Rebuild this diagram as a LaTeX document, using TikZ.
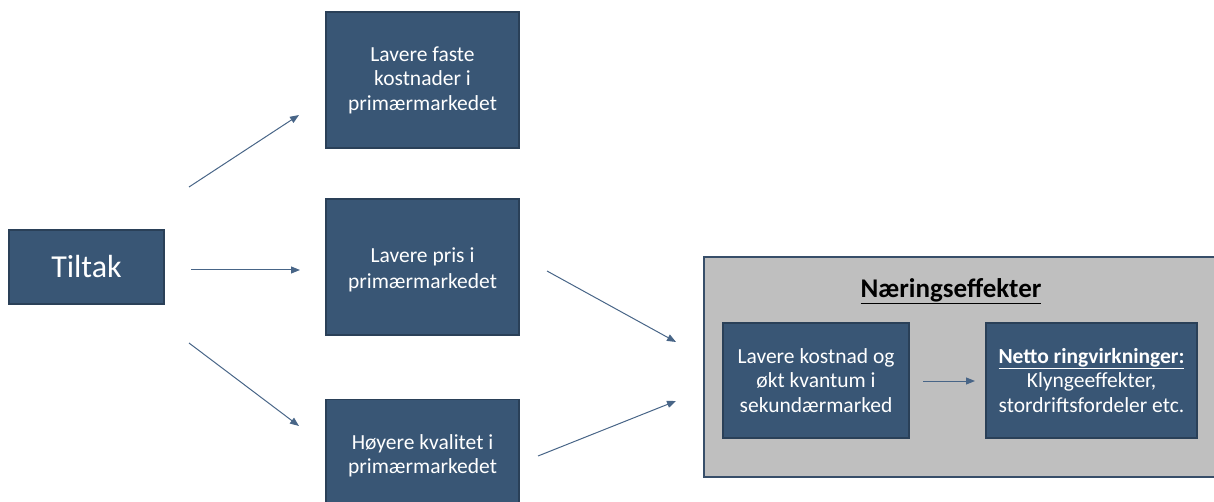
\documentclass[tikz,border=0pt]{standalone}
\usepackage{fontspec}
\setmainfont{Carlito}
\usetikzlibrary{arrows.meta}
\definecolor{boxblue}{RGB}{57,86,117}
\definecolor{boxedge}{RGB}{42,64,88}
\definecolor{greyfill}{RGB}{191,191,191}
\definecolor{greyedge}{RGB}{55,78,105}
\definecolor{arrowc}{RGB}{72,101,135}
\tikzset{
  bluebox/.style={draw=boxedge, line width=1.3pt, fill=boxblue, text=white, align=center,
    inner sep=0pt, font=\fontsize{21.5}{24.5}\selectfont},
  conn/.style={draw=arrowc, line width=1pt, -{Triangle[length=9pt,width=7pt]}},
}
\begin{document}
\begin{tikzpicture}[x=1pt,y=-1pt]
\useasboundingbox (0,0) rectangle (1214,502);
\clip (0,0) rectangle (1214,502);
% grey frame
\node[draw=greyedge, line width=1.3pt, fill=greyfill, minimum width=526pt, minimum height=220pt, inner sep=0pt] (frame) at (967,367) {};
\node[font=\fontsize{27}{29}\selectfont\bfseries] (title) at (951,291) {\underline{Næringseffekter}};
% left boxes
\node[bluebox, minimum width=155pt, minimum height=74pt, font=\fontsize{32}{34}\selectfont] (tiltak) at (86.5,267) {Tiltak};
\node[bluebox, minimum width=193pt, minimum height=136pt] (b1) at (422.5,80) {Lavere faste\\kostnader i\\primærmarkedet};
\node[bluebox, minimum width=193pt, minimum height=136pt] (b2) at (422.5,267) {};
\node[text=white, align=center, font=\fontsize{21.5}{26}\selectfont] (b2t) at (422.5,270) {Lavere pris i\\primærmarkedet};
\node[bluebox, minimum width=193pt, minimum height=122pt, anchor=north] (b3) at (422.5,399) {};
\node[text=white, align=center, font=\fontsize{21.5}{24.5}\selectfont] (b3t) at (422.5,456) {Høyere kvalitet i\\primærmarkedet};
% inner boxes
\node[bluebox, minimum width=186pt, minimum height=115pt] (i1) at (816,380.5) {Lavere kostnad og\\økt kvantum i\\sekundærmarked};
\node[bluebox, minimum width=211pt, minimum height=115pt] (i2) at (1091.5,380.5) {\textbf{\underline{Netto ringvirkninger:}}\\Klyngeeffekter,\\stordriftsfordeler etc.};
% connector endpoints
\coordinate (a1s) at (189,187); \coordinate (a1e) at (299,115);
\coordinate (a2s) at (191,270); \coordinate (a2e) at (300,270);
\coordinate (a3s) at (189,343); \coordinate (a3e) at (299,426);
\coordinate (a4s) at (547,271); \coordinate (a4e) at (676,342);
\coordinate (a5s) at (538,456); \coordinate (a5e) at (676,401);
\coordinate (a6s) at (923,381); \coordinate (a6e) at (975,381);
\draw[conn] (a1s) -- (a1e);
\draw[conn] (a2s) -- (a2e);
\draw[conn] (a3s) -- (a3e);
\draw[conn] (a4s) -- (a4e);
\draw[conn] (a5s) -- (a5e);
\draw[conn] (a6s) -- (a6e);
\end{tikzpicture}
\end{document}
